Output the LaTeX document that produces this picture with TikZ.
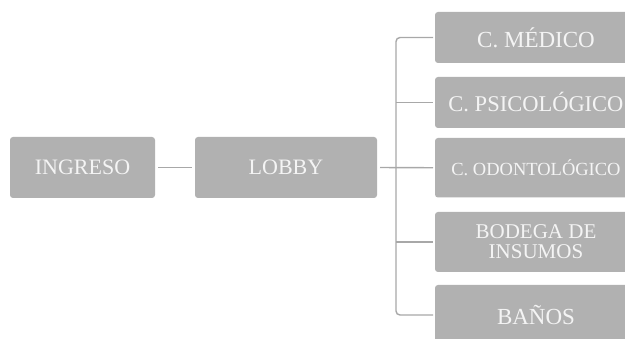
\documentclass[tikz,border=0pt]{standalone}
\usepackage{fontspec}
\setmainfont{Liberation Serif}
\definecolor{boxgray}{HTML}{B1B1B1}
\definecolor{linegray}{HTML}{A8A8A8}
\definecolor{txtwhite}{HTML}{F4F4F4}
\newcommand{\fs}[1]{\fontsize{#1}{#1}\selectfont}
\begin{document}
\begin{tikzpicture}[x=1pt,y=-1pt,
  box/.style={rectangle, rounded corners=3pt, fill=boxgray, text=txtwhite,
    inner sep=0pt, outer sep=0pt, align=center},
  conn/.style={draw=linegray, line width=1.4pt}]
\useasboundingbox (0,0) rectangle (625,339);
\clip (0,0) rectangle (625,339);
\fill[white] (0,0) rectangle (625,339);
\node[box, minimum width=145, minimum height=61, font=\fs{22}] (ingreso) at (82.5,167.5) {INGRESO};
\node[box, minimum width=182, minimum height=61, font=\fs{22}] (lobby) at (286,167.5) {LOBBY};
\node[box, minimum width=202, minimum height=51, font=\fs{23}] (medico) at (536,37.5) {C. MÉDICO};
\node[box, minimum width=202, minimum height=51, font=\fs{22.5}] (psico) at (536,102.5) {C. PSICOLÓGICO};
\node[box, minimum width=202, minimum height=59.5, font=\fs{18.5}] (odonto) at (536,167.75) {C. ODONTOLÓGICO};
\node[box, minimum width=202, minimum height=60, font=\fontsize{21}{20}\selectfont] (bodega) at (536,242) {BODEGA DE\\INSUMOS};
\node[box, minimum width=202, minimum height=60, font=\fs{23}] (banos) at (536,315) {BAÑOS};
\coordinate (trunk) at (396,0);
\draw[conn, shorten <=3pt, shorten >=3pt] (ingreso.east) -- (lobby.west);
\draw[conn, shorten <=3pt, shorten >=2pt] (lobby.east) -- (odonto.west);
\draw[conn, rounded corners=4pt] ([xshift=-2pt]medico.west) -- (trunk |- medico.west) -- (trunk |- banos.west) -- ([xshift=-2pt]banos.west);
\draw[conn] (trunk |- psico.west) -- ([xshift=-2pt]psico.west);
\draw[conn] (trunk |- bodega.west) -- ([xshift=-2pt]bodega.west);
\end{tikzpicture}
\end{document}
